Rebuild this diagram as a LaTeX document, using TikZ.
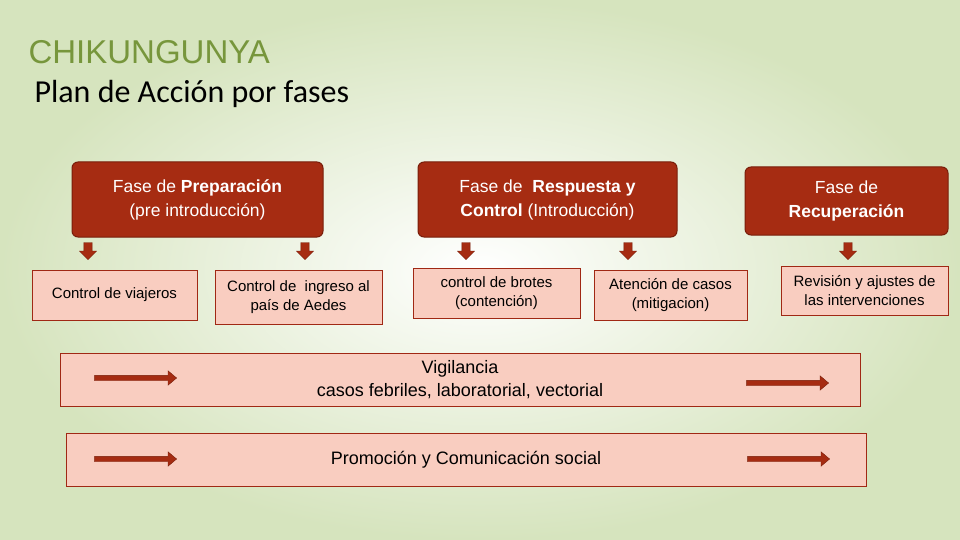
\documentclass[tikz,border=0pt]{standalone}
\usepackage{fontspec}
\setmainfont{Liberation Sans}
\newfontfamily\titlefont{Carlito}
\usetikzlibrary{shapes.arrows}
\definecolor{faseRed}{RGB}{166,44,18}
\definecolor{faseEdge}{RGB}{120,30,10}
\definecolor{subPink}{RGB}{249,205,192}
\definecolor{subEdge}{RGB}{160,40,20}
\definecolor{titleGreen}{RGB}{119,150,60}
\definecolor{bgGreen}{RGB}{214,228,190}
\tikzset{
  fasebox/.style = {draw=faseEdge, line width=1pt, fill=faseRed, rounded corners=6pt,
    text=white, align=center, inner sep=0pt, font=\fontsize{17.5}{24}\selectfont},
  subbox/.style = {draw=subEdge, line width=1pt, fill=subPink, align=center,
    inner sep=0pt, font=\fontsize{15}{19}\selectfont},
  widebox/.style = {draw=subEdge, line width=1pt, fill=subPink, align=center,
    inner sep=0pt, font=\fontsize{18}{23}\selectfont},
  downarrow/.style = {single arrow, shape border rotate=270, draw=faseEdge, fill=faseRed,
    minimum width=17pt, minimum height=17pt, single arrow head extend=4pt, inner sep=3.5pt},
  rightarrow/.style = {single arrow, draw=faseEdge, fill=faseRed,
    minimum width=14pt, minimum height=82pt, single arrow head extend=4.5pt,
    single arrow tip angle=80, inner sep=2.5pt},
}
\begin{document}
\begin{tikzpicture}[x=1pt, y=-1pt]
  \useasboundingbox (0,0) rectangle (960,540);
  \shade[inner color=white, outer color=bgGreen] (0,0) rectangle (960,540);

  % titulos
  \node[anchor=west, text=titleGreen, font=\fontsize{33}{36}\selectfont] (title) at (25,52) {CHIKUNGUNYA};
  \node[anchor=west, font=\titlefont\fontsize{32}{36}\selectfont] (subtitle) at (31,94) {Plan de Acción por fases};

  % fases
  \node[fasebox, minimum width=251pt, minimum height=75pt] (prep) at (197.5,199.5)
    {Fase de \textbf{Preparación}\\(pre introducción)};
  \node[fasebox, minimum width=259pt, minimum height=75pt] (resp) at (547.5,199.5)
    {Fase de \ \textbf{Respuesta y}\\\textbf{Control} (Introducción)};
  \node[fasebox, minimum width=203pt, minimum height=68pt] (recu) at (846.5,201)
    {Fase de\\\textbf{Recuperación}};

  \node[downarrow] (d1) at (88,249) {};
  \node[downarrow] (d2) at (305,249) {};
  \node[downarrow] (d3) at (466,249) {};
  \node[downarrow] (d4) at (628,249) {};
  \node[downarrow] (d5) at (848,249) {};

  % acciones
  \node[subbox, minimum width=165pt, minimum height=50pt] (viaj) at (114.5,295) {Control de viajeros};
  \node[subbox, minimum width=167pt, minimum height=54pt] (ingr) at (298.5,297) {Control de \ ingreso al\\país de Aedes};
  \node[subbox, minimum width=167pt, minimum height=50pt] (brot) at (496.5,293) {control de brotes\\(contención)};
  \node[subbox, minimum width=153pt, minimum height=50pt] (aten) at (670.5,295) {Atención de casos\\(mitigacion)};
  \node[subbox, minimum width=167pt, minimum height=49pt] (revi) at (864.5,290.5) {Revisión y ajustes de\\las intervenciones};

  % transversales
  \node[widebox, minimum width=800pt, minimum height=53pt] (vigi) at (460,379.5) {};
  \node[font=\fontsize{18}{23}\selectfont, align=center] (vigitxt) at (460,380) {Vigilancia\\casos febriles, laboratorial, vectorial};
  \node[widebox, minimum width=800pt, minimum height=53pt] (promo) at (466,460) {Promoción y Comunicación social};

  \node[rightarrow] (r1) at (134,378) {};
  \node[rightarrow] (r2) at (786,383) {};
  \node[rightarrow] (r3) at (134,459) {};
  \node[rightarrow] (r4) at (787,459) {};
\end{tikzpicture}
\end{document}
